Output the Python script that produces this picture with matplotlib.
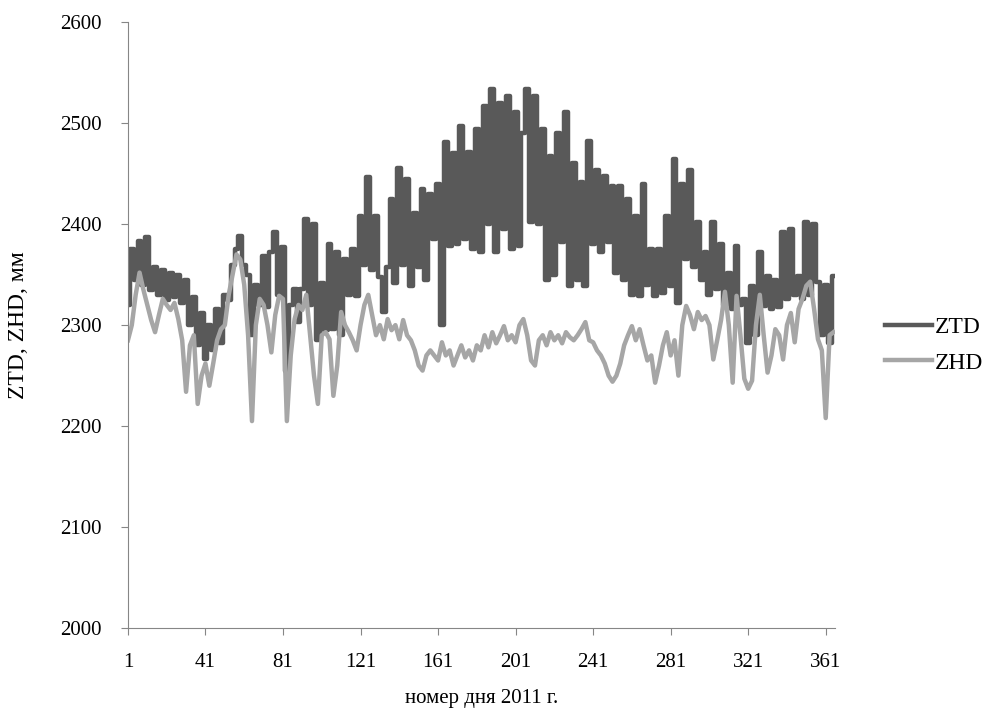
import numpy as np
import matplotlib
matplotlib.use("Agg")
import matplotlib.pyplot as plt

plt.rcParams["font.family"] = ["Liberation Serif", "DejaVu Serif"]

# ZTD, mm - every second day of 2011 (1, 3, 5, ... 365)
ztd = [
    2320, 2375, 2345, 2383, 2340, 2387, 2335, 2358, 2330, 2355,
    2325, 2352, 2328, 2350, 2322, 2345, 2300, 2328, 2280, 2312,
    2266, 2300, 2275, 2316, 2282, 2330, 2325, 2360, 2375, 2388,
    2360, 2350, 2290, 2340, 2320, 2368, 2318, 2372, 2392, 2330,
    2377, 2255, 2320, 2336, 2303, 2336, 2405, 2320, 2400, 2285,
    2342, 2295, 2380, 2296, 2372, 2290, 2365, 2330, 2375, 2329,
    2408, 2360, 2447, 2355, 2408, 2348, 2313, 2358, 2425, 2342,
    2456, 2360, 2445, 2339, 2411, 2358, 2435, 2345, 2430, 2385,
    2440, 2300, 2481, 2378, 2470, 2380, 2497, 2385, 2471, 2375,
    2494, 2372, 2517, 2400, 2534, 2372, 2520, 2395, 2527, 2375,
    2511, 2378, 2490, 2534, 2402, 2527, 2400, 2494, 2345, 2467,
    2350, 2490, 2382, 2511, 2339, 2461, 2345, 2442, 2339, 2482,
    2380, 2454, 2372, 2448, 2382, 2438, 2352, 2438, 2345, 2425,
    2330, 2408, 2329, 2440, 2340, 2375, 2329, 2375, 2332, 2408,
    2339, 2464, 2322, 2440, 2365, 2454, 2358, 2402, 2345, 2372,
    2330, 2402, 2336, 2380, 2320, 2352, 2316, 2378, 2320, 2326,
    2282, 2339, 2290, 2372, 2319, 2349, 2316, 2345, 2318, 2392,
    2326, 2395, 2330, 2349, 2326, 2402, 2330, 2400, 2343, 2290,
    2340, 2282, 2349,
]

# ZHD, mm - same days
zhd = [
    2285, 2300, 2330, 2352, 2335, 2320, 2305, 2293, 2310, 2326,
    2320, 2315, 2322, 2306, 2285, 2234, 2280, 2290, 2222, 2250,
    2262, 2240, 2262, 2285, 2296, 2300, 2330, 2350, 2370, 2365,
    2340, 2290, 2205, 2300, 2326, 2320, 2300, 2273, 2310, 2329,
    2326, 2205, 2270, 2306, 2320, 2315, 2330, 2290, 2250, 2222,
    2290, 2293, 2286, 2230, 2260, 2313, 2300, 2293, 2285, 2275,
    2300, 2320, 2330, 2310, 2290, 2300, 2286, 2306, 2295, 2300,
    2286, 2305, 2290, 2285, 2275, 2260, 2255, 2270, 2275, 2270,
    2265, 2283, 2270, 2275, 2260, 2270, 2280, 2268, 2275, 2265,
    2280, 2275, 2290, 2278, 2293, 2282, 2290, 2299, 2285, 2290,
    2283, 2300, 2306, 2290, 2265, 2260, 2285, 2290, 2280, 2293,
    2285, 2290, 2282, 2293, 2288, 2285, 2290, 2296, 2303, 2285,
    2283, 2275, 2270, 2262, 2250, 2244, 2250, 2262, 2280, 2290,
    2299, 2285, 2296, 2280, 2265, 2270, 2243, 2260, 2280, 2293,
    2270, 2285, 2250, 2300, 2319, 2310, 2296, 2313, 2305, 2309,
    2300, 2266, 2285, 2305, 2333, 2300, 2243, 2329, 2290, 2247,
    2237, 2245, 2300, 2330, 2290, 2253, 2270, 2296, 2290, 2266,
    2300, 2312, 2283, 2316, 2326, 2339, 2343, 2316, 2286, 2275,
    2208, 2290, 2293,
]

days = np.arange(1, 2 * len(ztd), 2)
xticks = [1, 41, 81, 121, 161, 201, 241, 281, 321, 361]
yticks = [2000, 2100, 2200, 2300, 2400, 2500, 2600]

fig = plt.figure(figsize=(9.84, 7.13), dpi=100)
ax = fig.add_axes([0.130, 0.119, 0.719, 0.850])

# hourly-like jitter of ZTD shows as a dense blocky band
ax.plot(days, ztd, color="#595959", lw=3.2, label="ZTD", drawstyle="steps-mid")
ax.plot(days, zhd, color="#a6a6a6", lw=3.2, label="ZHD")

ax.set_xlim(1, 366)
ax.set_ylim(2000, 2600)
ax.set_xticks(xticks)
ax.set_yticks(yticks)
ax.tick_params(axis="y", labelsize=15, length=5, color="#868686", pad=14)
ax.tick_params(axis="x", labelsize=15, length=5, color="#868686", pad=13)

for side in ["top", "right"]:
    ax.spines[side].set_visible(False)
for side in ["left", "bottom"]:
    ax.spines[side].set_color("#868686")

ax.set_ylabel("ZTD, ZHD, мм", fontsize=17, labelpad=22)
ax.set_xlabel("номер дня 2011 г.", fontsize=15, labelpad=12)

ax.legend(loc="center left", bbox_to_anchor=(1.04, 0.467), frameon=False,
          fontsize=17, handlelength=2.0, handletextpad=0.1, labelspacing=0.6)

fig.savefig("out.png", dpi=100)
